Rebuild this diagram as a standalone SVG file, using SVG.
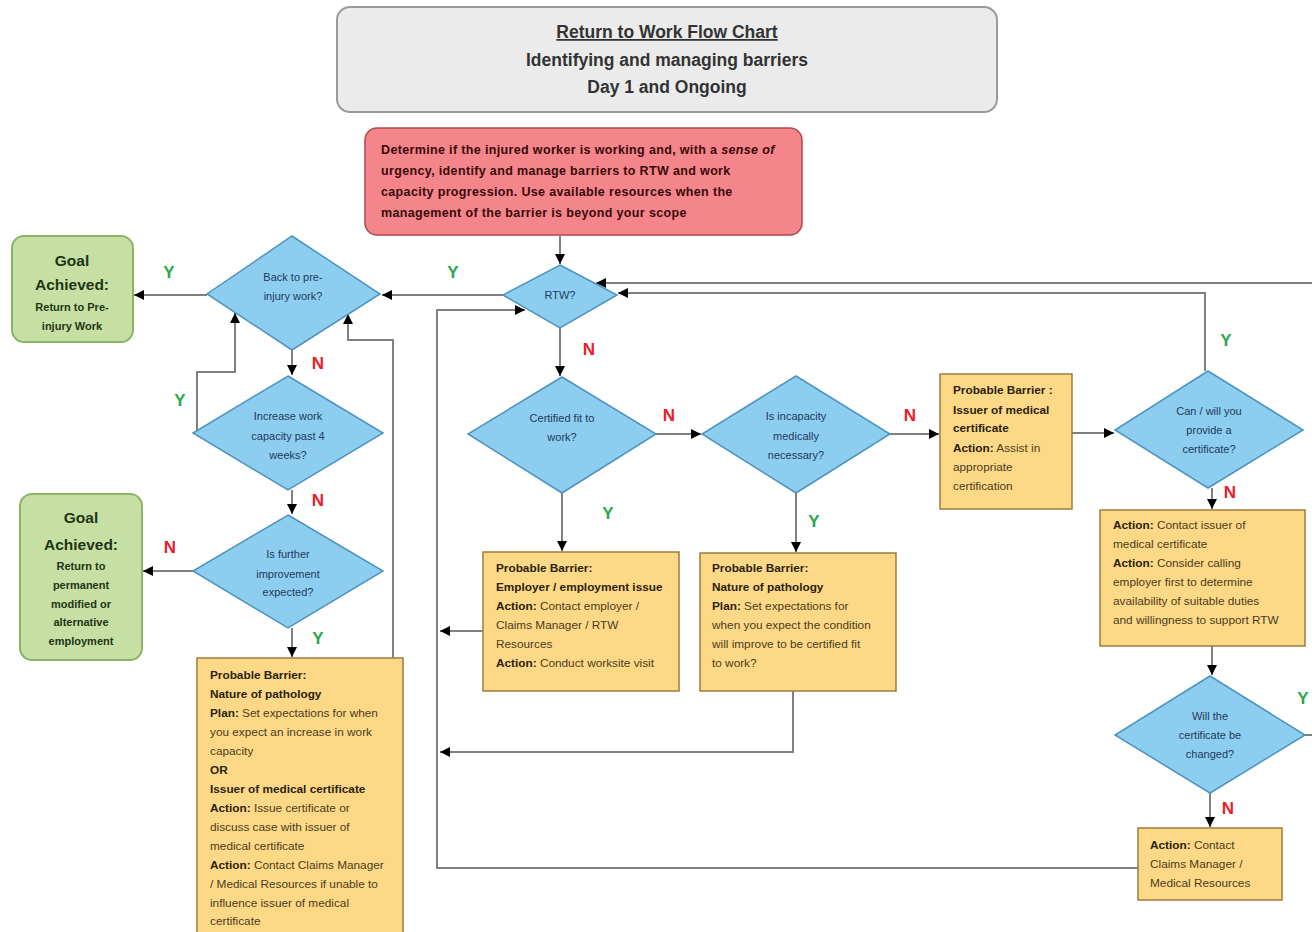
<svg xmlns="http://www.w3.org/2000/svg" width="1312" height="932" viewBox="0 0 1312 932">
<defs>
<marker id="arr" viewBox="0 0 10 10" refX="10" refY="5" markerWidth="11" markerHeight="10" orient="auto" markerUnits="userSpaceOnUse"><path d="M0,0 L10,5 L0,10 z" fill="#000"/></marker>
<style>
text{font-family:"Liberation Sans",Arial,sans-serif;}
.title{font-size:17.5px;font-weight:bold;fill:#333;text-anchor:middle;}
.red{fill:#f3858b;stroke:#b2474c;stroke-width:1.5;}
.redt{font-size:12.5px;font-weight:bold;fill:#3a0a0a;letter-spacing:0.35px;}
.dia{fill:#8dcdf0;stroke:#4d93be;stroke-width:1.5;}
.diat{font-size:11px;fill:#1f3a5c;text-anchor:middle;}
.goal{fill:#c6e0a4;stroke:#8cb466;stroke-width:2;}
.goalb{font-size:15.5px;font-weight:bold;fill:#1e3514;text-anchor:middle;}
.goals{font-size:11px;font-weight:bold;fill:#1e3514;text-anchor:middle;}
.box{fill:#fdd887;stroke:#9c7d3c;stroke-width:1.5;}
.bt{font-size:11.8px;fill:#4a3c1c;}
.bt .b{font-weight:bold;fill:#2a2210;}
.con{fill:none;stroke:#808080;stroke-width:2;}
.arr{marker-end:url(#arr);}
.Y{font-size:17px;font-weight:bold;fill:#2aa84a;text-anchor:middle;}
.N{font-size:17px;font-weight:bold;fill:#e8202a;text-anchor:middle;}
</style>
</defs>
<rect width="1312" height="932" fill="#fff"/>

<g id="connectors">
<path class="con arr" d="M560,236 V264"/>
<path class="con arr" d="M503,295 H382"/>
<path class="con arr" d="M207,295 H134"/>
<path class="con arr" d="M292,350 V375"/>
<path class="con arr" d="M197,433 V372 H235 V313"/>
<path class="con arr" d="M393,658 V340 H348 V314"/>
<path class="con arr" d="M292,490 V514"/>
<path class="con arr" d="M193,571 H143"/>
<path class="con arr" d="M292,628 V657"/>
<path class="con arr" d="M560,328 V376"/>
<path class="con arr" d="M656,434 H701"/>
<path class="con arr" d="M890,434 H939"/>
<path class="con arr" d="M1072,433 H1114"/>
<path class="con arr" d="M1205,371 V293 H618"/>
<path class="con arr" d="M1312,283 H596"/>
<path class="con arr" d="M562,493 V551"/>
<path class="con arr" d="M796,493 V552"/>
<path class="con arr" d="M483,631 H440"/>
<path class="con arr" d="M793,691 V752 H440"/>
<path class="con arr" d="M1138,868 H437 V310 H525"/>
<path class="con arr" d="M1212,488 V509"/>
<path class="con arr" d="M1212,646 V675"/>
<path class="con" d="M1305,735 H1312"/>
<path class="con arr" d="M1210,793 V827"/>
</g>

<g id="labels">
<text class="Y" x="169" y="278">Y</text>
<text class="Y" x="453" y="278">Y</text>
<text class="N" x="318" y="369">N</text>
<text class="Y" x="180" y="406">Y</text>
<text class="N" x="318" y="506">N</text>
<text class="N" x="170" y="553">N</text>
<text class="Y" x="318" y="644">Y</text>
<text class="N" x="589" y="355">N</text>
<text class="N" x="669" y="421">N</text>
<text class="N" x="910" y="421">N</text>
<text class="Y" x="608" y="519">Y</text>
<text class="Y" x="814" y="527">Y</text>
<text class="Y" x="1226" y="346">Y</text>
<text class="N" x="1230" y="498">N</text>
<text class="Y" x="1303" y="704">Y</text>
<text class="N" x="1228" y="814">N</text>
</g>

<g id="title">
<rect x="337" y="7" width="660" height="105" rx="13" fill="#ebebeb" stroke="#9a9a9a" stroke-width="2"/>
<text class="title" x="667" y="38" text-decoration="underline">Return to Work Flow Chart</text>
<text class="title" x="667" y="66">Identifying and managing barriers</text>
<text class="title" x="667" y="93">Day 1 and Ongoing</text>
</g>

<g id="start">
<rect x="365" y="128" width="437" height="107" rx="12" class="red"/>
<text class="redt" x="381" y="154">Determine if the injured worker is working and, with a <tspan font-style="italic">sense of</tspan></text>
<text class="redt" x="381" y="175">urgency, identify and manage barriers to RTW and work</text>
<text class="redt" x="381" y="196">capacity progression. Use available resources when the</text>
<text class="redt" x="381" y="217">management of the barrier is beyond your scope</text>
</g>

<g id="rtw">
<polygon class="dia" points="560,265 617,295 560,328 503,295"/>
<text class="diat" x="560" y="299" font-size="9.5">RTW?</text>
</g>

<g id="back">
<polygon class="dia" points="292,236 380,294 292,350 207,294"/>
<text class="diat" x="293" y="281">Back to pre-</text>
<text class="diat" x="293" y="300">injury work?</text>
</g>

<g id="goal1">
<rect class="goal" x="12" y="236" width="121" height="106" rx="12"/>
<text class="goalb" x="72" y="266">Goal</text>
<text class="goalb" x="72" y="290">Achieved:</text>
<text class="goals" x="72" y="311">Return to Pre-</text>
<text class="goals" x="72" y="330">injury Work</text>
</g>

<g id="increase">
<polygon class="dia" points="288,376 383,433 288,490 193,433"/>
<text class="diat" x="288" y="420">Increase work</text>
<text class="diat" x="288" y="440">capacity past 4</text>
<text class="diat" x="288" y="459">weeks?</text>
</g>

<g id="further">
<polygon class="dia" points="288,515 383,571 288,628 193,571"/>
<text class="diat" x="288" y="558">Is further</text>
<text class="diat" x="288" y="578">improvement</text>
<text class="diat" x="288" y="596">expected?</text>
</g>

<g id="goal2">
<rect class="goal" x="20" y="494" width="122" height="166" rx="12"/>
<text class="goalb" x="81" y="523">Goal</text>
<text class="goalb" x="81" y="550">Achieved:</text>
<text class="goals" x="81" y="570">Return to</text>
<text class="goals" x="81" y="589">permanent</text>
<text class="goals" x="81" y="608">modified or</text>
<text class="goals" x="81" y="626">alternative</text>
<text class="goals" x="81" y="645">employment</text>
</g>

<g id="barrier-pathology-left">
<rect class="box" x="197" y="658" width="206" height="290"/>
<text class="bt" x="210" y="679"><tspan class="b">Probable Barrier:</tspan></text>
<text class="bt" x="210" y="698"><tspan class="b">Nature of pathology</tspan></text>
<text class="bt" x="210" y="717"><tspan class="b">Plan:</tspan> Set expectations for when</text>
<text class="bt" x="210" y="736">you expect an increase in work</text>
<text class="bt" x="210" y="755">capacity</text>
<text class="bt" x="210" y="774"><tspan class="b">OR</tspan></text>
<text class="bt" x="210" y="793"><tspan class="b">Issuer of medical certificate</tspan></text>
<text class="bt" x="210" y="812"><tspan class="b">Action:</tspan> Issue certificate or</text>
<text class="bt" x="210" y="831">discuss case with issuer of</text>
<text class="bt" x="210" y="850">medical certificate</text>
<text class="bt" x="210" y="869"><tspan class="b">Action:</tspan> Contact Claims Manager</text>
<text class="bt" x="210" y="888">/ Medical Resources if unable to</text>
<text class="bt" x="210" y="907">influence issuer of medical</text>
<text class="bt" x="210" y="925">certificate</text>
</g>

<g id="certified">
<polygon class="dia" points="562,377 656,434 562,493 468,434"/>
<text class="diat" x="562" y="422">Certified fit to</text>
<text class="diat" x="562" y="441">work?</text>
</g>

<g id="incapacity">
<polygon class="dia" points="796,376 890,434 796,493 702,434"/>
<text class="diat" x="796" y="420">Is incapacity</text>
<text class="diat" x="796" y="440">medically</text>
<text class="diat" x="796" y="459">necessary?</text>
</g>

<g id="barrier-employer">
<rect class="box" x="483" y="552" width="196" height="139"/>
<text class="bt" x="496" y="572"><tspan class="b">Probable Barrier:</tspan></text>
<text class="bt" x="496" y="591"><tspan class="b">Employer / employment issue</tspan></text>
<text class="bt" x="496" y="610"><tspan class="b">Action:</tspan> Contact employer /</text>
<text class="bt" x="496" y="629">Claims Manager / RTW</text>
<text class="bt" x="496" y="648">Resources</text>
<text class="bt" x="496" y="667"><tspan class="b">Action:</tspan> Conduct worksite visit</text>
</g>

<g id="barrier-pathology">
<rect class="box" x="700" y="553" width="196" height="138"/>
<text class="bt" x="712" y="572"><tspan class="b">Probable Barrier:</tspan></text>
<text class="bt" x="712" y="591"><tspan class="b">Nature of pathology</tspan></text>
<text class="bt" x="712" y="610"><tspan class="b">Plan:</tspan> Set expectations for</text>
<text class="bt" x="712" y="629">when you expect the condition</text>
<text class="bt" x="712" y="648">will improve to be certified fit</text>
<text class="bt" x="712" y="667">to work?</text>
</g>

<g id="barrier-issuer">
<rect class="box" x="940" y="374" width="132" height="135"/>
<text class="bt" x="953" y="394"><tspan class="b">Probable Barrier :</tspan></text>
<text class="bt" x="953" y="414"><tspan class="b">Issuer of medical</tspan></text>
<text class="bt" x="953" y="432"><tspan class="b">certificate</tspan></text>
<text class="bt" x="953" y="452"><tspan class="b">Action:</tspan> Assist in</text>
<text class="bt" x="953" y="471">appropriate</text>
<text class="bt" x="953" y="490">certification</text>
</g>

<g id="can-provide">
<polygon class="dia" points="1208,371 1303,430 1208,488 1115,430"/>
<text class="diat" x="1209" y="415">Can / will you</text>
<text class="diat" x="1209" y="434">provide a</text>
<text class="diat" x="1209" y="453">certificate?</text>
</g>

<g id="action-contact-issuer">
<rect class="box" x="1100" y="510" width="205" height="136"/>
<text class="bt" x="1113" y="529"><tspan class="b">Action:</tspan> Contact issuer of</text>
<text class="bt" x="1113" y="548">medical certificate</text>
<text class="bt" x="1113" y="567"><tspan class="b">Action:</tspan> Consider calling</text>
<text class="bt" x="1113" y="586">employer first to determine</text>
<text class="bt" x="1113" y="605">availability of suitable duties</text>
<text class="bt" x="1113" y="624">and willingness to support RTW</text>
</g>

<g id="will-change">
<polygon class="dia" points="1210,676 1305,735 1210,793 1115,735"/>
<text class="diat" x="1210" y="720">Will the</text>
<text class="diat" x="1210" y="739">certificate be</text>
<text class="diat" x="1210" y="758">changed?</text>
</g>

<g id="action-claims">
<rect class="box" x="1138" y="828" width="144" height="72"/>
<text class="bt" x="1150" y="849"><tspan class="b">Action:</tspan> Contact</text>
<text class="bt" x="1150" y="868">Claims Manager /</text>
<text class="bt" x="1150" y="887">Medical Resources</text>
</g>
</svg>
